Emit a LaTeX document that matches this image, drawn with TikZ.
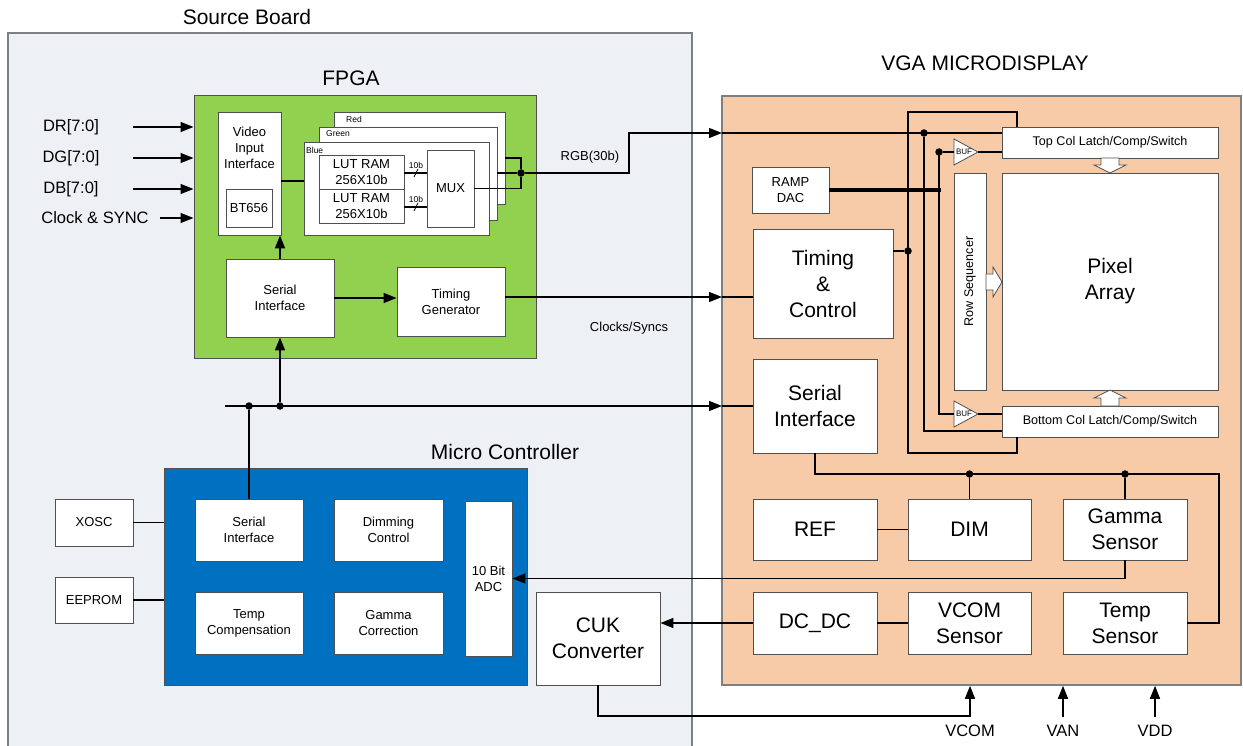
\documentclass[tikz,border=0pt]{standalone}
\usepackage{fontspec}
\setmainfont{Liberation Sans}
\usetikzlibrary{arrows.meta}
\definecolor{srcfill}{HTML}{EDF0F5}
\definecolor{fpgagreen}{HTML}{92D050}
\definecolor{mcblue}{HTML}{0070C0}
\definecolor{mdpeach}{HTML}{F8CBA8}
\definecolor{boxline}{HTML}{505050}
\definecolor{frameline}{HTML}{7F7F7F}
\begin{document}
\begin{tikzpicture}[x=1pt,y=-1pt,
  box/.style={draw=boxline, fill=white, line width=0.9pt, inner sep=0pt, align=center},
  cont/.style={draw=boxline, line width=1pt, inner sep=0pt},
  wire/.style={line width=1.4pt, draw=black},
  arr/.style={wire, -{Triangle[length=13pt,width=10pt]}},
  jdot/.style={circle, fill=black, inner sep=0pt, minimum size=7.5pt},
  ttl/.style={font=\fontsize{21}{25}\selectfont},
  bigt/.style={font=\fontsize{21}{26}\selectfont},
  medt/.style={font=\fontsize{13}{16}\selectfont},
  smallt/.style={font=\fontsize{8.5}{10}\selectfont, inner sep=0pt},
  inl/.style={font=\fontsize{16.5}{20}\selectfont},
  blockarrow/.style={draw=boxline, fill=white, line width=0.8pt}
]
\useasboundingbox (0,0) rectangle (1243,746);

% ---------- Source board ----------
\fill[srcfill] (8,33) rectangle (692,760);
\draw[frameline, line width=1.6pt] (8,760) -- (8,33) -- (692,33) -- (692,760);
\node[ttl] (srct) at (247,17) {Source Board};

% ---------- FPGA ----------
\node[cont, fill=fpgagreen, minimum width=342pt, minimum height=262pt] (fpga) at (365,227) {};
\node[ttl] (fpgat) at (351,78) {FPGA};

\node[box, minimum width=63pt, minimum height=123pt] (vii) at (249.5,173.5) {};
\node[medt, align=center, anchor=north] (viit) at (249.5,124) {Video\\Input\\Interface};
\node[box, medt, minimum width=46pt, minimum height=38pt] (bt) at (249,208) {BT656};

\node[box, minimum width=171pt, minimum height=92pt] (red) at (419.5,158) {};
\node[box, minimum width=178pt, minimum height=93pt] (green) at (408,173.5) {};
\node[box, minimum width=185pt, minimum height=93pt] (blue) at (396.5,188.5) {};
\node[smallt, anchor=west] (redt) at (346,119) {Red};
\node[smallt, anchor=west] (greent) at (326,134) {Green};
\node[smallt, anchor=west] (bluet) at (306,150) {Blue};

\node[box, medt, minimum width=85pt, minimum height=34pt] (lut1) at (361.5,172) {LUT RAM\\256X10b};
\node[box, medt, minimum width=85pt, minimum height=34pt] (lut2) at (361.5,206) {LUT RAM\\256X10b};
\node[box, medt, minimum width=47pt, minimum height=77pt] (mux) at (450.5,188.5) {MUX};

\node[box, medt, minimum width=108pt, minimum height=78pt] (fser) at (280,298) {Serial\\Interface};
\node[box, medt, minimum width=108pt, minimum height=69pt] (tgen) at (451,301.5) {Timing\\Generator};

% FPGA internal wiring
\draw[wire] (vii.east|-0,181) -- (blue.west|-0,181);
\draw[wire] (lut1.east|-0,173) -- (mux.west|-0,173);
\draw[wire] (lut2.east|-0,207) -- (mux.west|-0,207);
\draw[line width=0.8pt] (414,177) -- (418,169);
\draw[line width=0.8pt] (414,211) -- (418,203);
\node[smallt] (b10a) at (416,165) {10b};
\node[smallt] (b10b) at (416,199) {10b};
\node[jdot] (dm) at (521,173) {};
\draw[wire] (mux.east) -| (dm);
\coordinate (redout) at (505,158);
\draw[wire] (redout) -| (dm);
\draw[wire] (green.east|-dm) -- (dm);
\draw[arr] (fser.north) -- (fser.north|-vii.south);
\draw[arr] (fser.east) -- (tgen.west|-fser.east);

% inputs
\node[inl] (dr) at (71,127) {DR[7:0]};
\node[inl] (dg) at (71,158) {DG[7:0]};
\node[inl] (db) at (71,189) {DB[7:0]};
\node[inl] (cs) at (95,218) {Clock \& SYNC};
\coordinate (drs) at (133,127);
\coordinate (dgs) at (133,158);
\coordinate (dbs) at (133,189);
\coordinate (css) at (160,218);
\draw[arr] (drs) -- (fpga.west|-drs);
\draw[arr] (dgs) -- (fpga.west|-dgs);
\draw[arr] (dbs) -- (fpga.west|-dbs);
\draw[arr] (css) -- (fpga.west|-css);

% ---------- Micro controller ----------
\node[cont, fill=mcblue, minimum width=363pt, minimum height=217pt] (mc) at (345.5,576.5) {};
\node[ttl] (mct) at (505,452) {Micro Controller};
\node[box, medt, minimum width=108pt, minimum height=62pt] (mser) at (249,530) {Serial\\Interface};
\node[box, medt, minimum width=109pt, minimum height=62pt] (dimc) at (388.5,530) {Dimming\\Control};
\node[box, medt, minimum width=108pt, minimum height=62pt] (tcomp) at (249,623) {Temp\\Compensation};
\node[box, medt, minimum width=109pt, minimum height=62pt] (gcorr) at (388.5,623) {Gamma\\Correction};
\node[box, medt, minimum width=47pt, minimum height=155pt] (adc) at (488.5,578.5) {10 Bit\\ADC};
\node[box, medt, minimum width=78pt, minimum height=47pt] (xosc) at (94,522.5) {XOSC};
\node[box, medt, minimum width=78pt, minimum height=46pt] (eeprom) at (94,600) {EEPROM};
\draw[wire] (xosc.east) -- (mc.west|-xosc.east);
\draw[wire] (eeprom.east) -- (mc.west|-eeprom.east);

\node[box, bigt, minimum width=124pt, minimum height=93pt] (cuk) at (598,638.5) {CUK\\Converter};

% ---------- VGA microdisplay ----------
\node[cont, fill=mdpeach, draw=frameline, line width=1.6pt, minimum width=519pt, minimum height=589pt] (md) at (981.5,390.5) {};
\node[ttl] (mdt) at (985,63) {VGA MICRODISPLAY};

\node[box, medt, minimum width=77pt, minimum height=46pt] (ramp) at (790.5,190) {RAMP\\DAC};
\node[box, bigt, minimum width=140pt, minimum height=109pt] (tc) at (823,283.5) {Timing\\\&\\Control};
\node[box, bigt, minimum width=124pt, minimum height=94pt] (dser) at (815,406) {Serial\\Interface};
\node[box, bigt, minimum width=124pt, minimum height=61pt] (ref) at (815,529.5) {REF};
\node[box, bigt, minimum width=123pt, minimum height=61pt] (dim) at (969.5,529.5) {DIM};
\node[box, bigt, minimum width=124pt, minimum height=61pt] (gsen) at (1125,529.5) {Gamma\\Sensor};
\node[box, bigt, minimum width=124pt, minimum height=62pt] (dcdc) at (815,623) {DC\_DC};
\node[box, bigt, minimum width=123pt, minimum height=62pt] (vcom) at (969.5,623) {VCOM\\Sensor};
\node[box, bigt, minimum width=124pt, minimum height=62pt] (tsen) at (1125,623) {Temp\\Sensor};

\node[box, font=\fontsize{12.6}{15}\selectfont, minimum width=216pt, minimum height=31pt] (topcol) at (1110,142.5) {Top Col Latch/Comp/Switch};
\node[box, bigt, minimum width=216pt, minimum height=217pt] (pix) at (1110,281.5) {Pixel\\Array};
\node[box, font=\fontsize{12.6}{15}\selectfont, minimum width=216pt, minimum height=31pt] (botcol) at (1110,421.5) {Bottom Col Latch/Comp/Switch};
\node[box, minimum width=32pt, minimum height=217pt] (rowseq) at (970,281.5) {};
\node[rotate=90, font=\fontsize{12.6}{15}\selectfont] (rowseqt) at (rowseq) {Row Sequencer};

% block arrows
\draw[blockarrow] (1101,158) -- (1119,158) -- (1119,165) -- (1126,165) -- (1110,173) -- (1094,165) -- (1101,165) -- cycle;
\draw[blockarrow] (1101,406) -- (1119,406) -- (1119,398) -- (1126,398) -- (1110,390) -- (1094,398) -- (1101,398) -- cycle;
\draw[blockarrow] (986,274) -- (993,274) -- (993,267) -- (1002,282) -- (993,297) -- (993,290) -- (986,290) -- cycle;

% BUFs
\coordinate (b1in) at (954,152);
\coordinate (b1out) at (978,152);
\coordinate (b2in) at (954,414);
\coordinate (b2out) at (978,414);
\draw[blockarrow] (954,139) -- (978,152) -- (954,165) -- cycle;
\draw[blockarrow] (954,401) -- (978,414) -- (954,427) -- cycle;
\node[font=\fontsize{8}{9}\selectfont, inner sep=0pt] (buf1t) at (964,152) {BUF};
\node[font=\fontsize{8}{9}\selectfont, inner sep=0pt] (buf2t) at (964,414) {BUF};

% ---------- connections between blocks ----------
\coordinate (rgbin) at (722,133);
\coordinate (clkin) at (722,297);
\coordinate (busin) at (722,406);
\coordinate (busl) at (225,406);
\draw[arr] (dm) -- (629,173) -- (629,133) -- (rgbin);
\node[medt] (rgbt) at (590,157) {RGB(30b)};
\draw[arr] (tgen.east|-clkin) -- (clkin);
\node[medt] (clkt) at (629,328) {Clocks/Syncs};
\draw[wire] (clkin) -- (tc.west|-clkin);

\node[jdot] (d1) at (249,406) {};
\node[jdot] (d2) at (280,406) {};
\draw[arr] (busl) -- (busin);
\draw[wire] (busin) -- (dser.west|-busin);
\draw[arr] (d2) -- (fser.south);
\draw[wire] (d1) -- (mser.north);

% display internal
\draw[wire] (rgbin) -- (topcol.west|-rgbin);
\node[jdot] (d3) at (924,133) {};
\draw[wire] (d3) |- ([yshift=-9.5pt]botcol.west);
\draw[wire] ([xshift=-93pt]topcol.north) -- (1017,112) -- (908,112) -- (908,453) -- (1017,453) -- ([xshift=-93pt]botcol.south);
\node[jdot] (d4) at (908,251) {};
\draw[wire] (tc.east|-d4) -- (d4);
\node[jdot] (d5) at (939,152) {};
\draw[wire] (d5) -- (b1in);
\draw[wire] (b1out) -- (topcol.west|-b1out);
\draw[line width=2.2pt] (939,152) -- (939,414) -- (b2in);
\draw[wire] (b2out) -- (botcol.west|-b2out);
\draw[line width=3.4pt] (ramp.east) -- (941,190);

\node[jdot] (d6) at (969.5,474) {};
\node[jdot] (d7) at (1125,474) {};
\draw[wire] (dser.south) |- (1219,474) |- (tsen.east);
\draw[wire] (d6) -- (dim.north);
\draw[wire] (d7) -- (gsen.north);
\draw[wire] (ref.east) -- (dim.west);
\draw[wire] (dcdc.east) -- (vcom.west);
\draw[arr] (gsen.south) |- (adc.east);
\draw[arr] (dcdc.west) -- (cuk.east|-dcdc.west);

% supply pins
\node[inl] (lvcom) at (970,731) {VCOM};
\node[inl] (lvan) at (1063,731) {VAN};
\node[inl] (lvdd) at (1155,731) {VDD};
\coordinate (vanb) at (1063,717);
\coordinate (vddb) at (1155,717);
\draw[arr] (cuk.south) |- (970,716) -- (lvcom.north|-md.south);
\draw[arr] (vanb) -- (vanb|-md.south);
\draw[arr] (vddb) -- (vddb|-md.south);
\end{tikzpicture}
\end{document}
